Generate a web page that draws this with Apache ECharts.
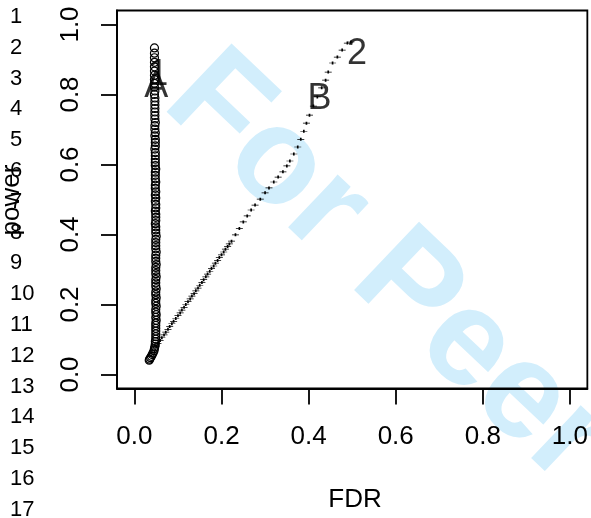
<!DOCTYPE html>
<html><head><meta charset="utf-8">
<script src="https://cdn.jsdelivr.net/npm/echarts@6/dist/echarts.min.js"></script>
<style>html,body{margin:0;padding:0;background:#fff}#c{width:591px;height:518px}</style>
</head><body><div id="c"></div>
<script>
const xTicks = [0, 0.2, 0.4, 0.6, 0.8, 1.0];
const yTicks = [0, 0.2, 0.4, 0.6, 0.8, 1.0];
const lineNumbers = ['1','2','3','4','5','6','7','8','9','10','11','12','13','14','15','16','17'];
const xTitle = 'FDR';
const yTitle = 'power';
const watermark = 'For Peer Review';

// Series A (circles)
const fdrA = [0.034,0.035,0.037,0.039,0.041,0.043,0.045,0.046,0.047,0.048,0.048,0.049,0.049,0.049,0.049,0.049,
  0.049,0.049,0.050,0.049,0.050,0.049,0.049,0.050,0.049,0.049,0.050,0.049,0.049,0.050,0.049,0.049,0.049,0.050,0.049,0.049,
  0.049,0.050,0.049,0.049,0.049,0.050,0.049,0.049,0.049,0.049,0.050,0.049,0.049,0.049,0.048,0.049,0.049,0.049,0.048,0.049,
  0.049,0.048,0.049,0.048,0.049,0.048,0.048,0.049,0.048,0.048,0.048,0.049,0.048,0.048,0.048,0.048,0.048,0.047,0.048,0.048,
  0.048,0.047,0.048,0.047,0.047,0.048,0.047,0.047,0.047,0.047,0.047,0.047,0.047,0.046,0.047,0.046,0.046,0.046,0.046,0.046,0.046,0.046,0.046,0.046,0.046];
const powerA = [0.041,0.044,0.048,0.052,0.057,0.062,0.068,0.074,0.080,0.087,0.094,0.101,0.108,0.116,0.124,0.132,
  0.140,0.147,0.155,0.163,0.171,0.178,0.186,0.195,0.203,0.211,0.219,0.228,0.236,0.245,0.253,0.262,0.271,0.279,0.288,0.297,
  0.306,0.314,0.323,0.332,0.341,0.350,0.359,0.368,0.377,0.386,0.395,0.404,0.413,0.422,0.431,0.440,0.449,0.458,0.467,0.476,
  0.486,0.495,0.504,0.513,0.522,0.532,0.541,0.550,0.559,0.569,0.578,0.587,0.597,0.606,0.615,0.625,0.634,0.644,0.653,0.663,
  0.672,0.682,0.691,0.701,0.711,0.720,0.730,0.740,0.750,0.760,0.770,0.780,0.790,0.800,0.810,0.821,0.832,0.843,0.855,0.867,0.879,0.892,0.905,0.918,0.933];

// Series B (plus marks)
const fdrB = [0.050,0.054,0.059,0.063,0.068,0.072,0.077,0.081,0.086,0.090,0.095,0.100,0.105,0.109,0.114,0.118,0.123,0.128,
  0.132,0.137,0.141,0.146,0.150,0.155,0.159,0.164,0.168,0.173,0.177,0.182,0.186,0.191,0.195,0.200,0.205,0.209,0.214,0.218,0.223,
  0.232,0.241,0.250,0.259,0.268,0.277,0.289,0.300,0.309,0.320,0.330,0.341,0.350,0.357,0.366,0.375,
  0.382,0.389,0.395,0.402,0.411,0.420,0.430,0.439,0.445,0.455,0.466,0.477,0.489,0.497];
const powerB = [0.081,0.089,0.097,0.105,0.113,0.121,0.129,0.137,0.145,0.152,0.160,0.168,0.176,0.184,0.192,0.200,0.208,0.216,
  0.224,0.231,0.239,0.247,0.255,0.263,0.271,0.279,0.287,0.295,0.303,0.310,0.318,0.326,0.334,0.342,0.350,0.358,0.366,0.373,0.381,
  0.399,0.417,0.436,0.453,0.470,0.484,0.501,0.519,0.533,0.550,0.564,0.579,0.596,0.610,0.630,0.650,
  0.672,0.695,0.718,0.741,0.767,0.793,0.819,0.841,0.864,0.890,0.907,0.927,0.947,0.950];

// Text annotations inside the plot
const noteText = ['A', '1', 'B', '2'];
const noteFdr = [0.050, 0.055, 0.425, 0.511];
const notePower = [0.820, 0.855, 0.787, 0.915];

const FONT = '"Liberation Sans", Arial, Helvetica, sans-serif';
const chart = echarts.init(document.getElementById('c'), null, {renderer: 'canvas'});

const graphics = lineNumbers.map((t, i) => ({
  type: 'text', x: 10, y: 17 + i * 30.8,
  style: {text: t, fontSize: 22, fontFamily: FONT, fill: '#000', textAlign: 'left', textVerticalAlign: 'middle'},
  z: 10
}));
graphics.push({
  type: 'text', x: 186, y: 78, rotation: -0.76, z: -10, silent: true,
  style: {text: watermark, fontSize: 137, fontWeight: 'bold', fontFamily: FONT, fill: '#d2eefc', textAlign: 'left', textVerticalAlign: 'middle'}
});
graphics.push({
  type: 'text', x: 355, y: 500,
  style: {text: xTitle, fontSize: 26, fontFamily: FONT, fill: '#000', textAlign: 'center', textVerticalAlign: 'middle'}
});
graphics.push({
  type: 'text', x: 12, y: 200, rotation: Math.PI / 2,
  style: {text: yTitle, fontSize: 26, fontFamily: FONT, fill: '#000', textAlign: 'center', textVerticalAlign: 'middle'}
});

const axisCommon = {
  type: 'value', min: -0.04, max: 1.04,
  splitLine: {show: false},
  axisLine: {show: true, onZero: false, lineStyle: {color: '#000', width: 1.8}},
  axisTick: {show: true, inside: false, length: 16, lineStyle: {color: '#000', width: 1.8}},
};

chart.setOption({
  animation: false,
  backgroundColor: '#fff',
  graphic: graphics,
  grid: {left: 117, top: 10.5, width: 475.2, height: 378, show: true, borderColor: '#000', borderWidth: 1.8, backgroundColor: 'transparent', containLabel: false},
  xAxis: Object.assign({}, axisCommon, {
    axisTick: Object.assign({}, axisCommon.axisTick, {customValues: xTicks}),
    axisLabel: {customValues: xTicks, formatter: v => v.toFixed(1), fontSize: 26, fontFamily: FONT, color: '#000', margin: 35}
  }),
  yAxis: Object.assign({}, axisCommon, {
    axisTick: Object.assign({}, axisCommon.axisTick, {customValues: yTicks}),
    axisLabel: {customValues: yTicks, formatter: v => v.toFixed(1), fontSize: 26, fontFamily: FONT, color: '#000', margin: 33, rotate: 90}
  }),
  series: [
    {
      type: 'scatter', name: 'A',
      data: fdrA.map((x, i) => [x, powerA[i]]),
      symbol: 'circle', symbolSize: 8,
      itemStyle: {color: 'transparent', borderColor: '#000', borderWidth: 1.2, opacity: 1},
      z: 3
    },
    {
      type: 'scatter', name: 'B',
      data: fdrB.map((x, i) => [x, powerB[i]]),
      symbol: 'path://M0,1.5 L7,1.5 M3.5,0 L3.5,3', symbolSize: [7, 3],
      itemStyle: {color: 'none', borderColor: '#000', borderWidth: 1.1, opacity: 1},
      z: 3
    },
    {
      type: 'scatter', name: 'notes',
      data: noteText.map((t, i) => ({name: t, value: [noteFdr[i], notePower[i]]})),
      symbolSize: 1, itemStyle: {color: 'transparent'},
      label: {show: true, position: 'inside', formatter: '{b}', fontSize: 36, fontFamily: FONT, color: '#000', textBorderWidth: 0},
      z: 4
    }
  ]
});
</script>
</body></html>
